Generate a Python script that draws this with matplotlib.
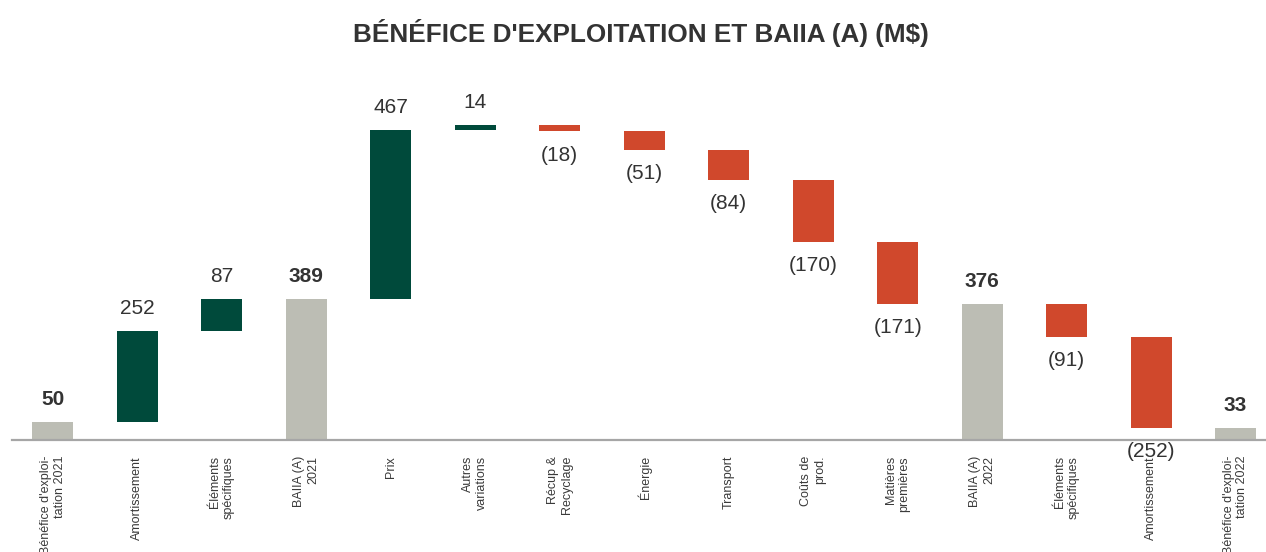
import matplotlib
matplotlib.use("Agg")
import matplotlib.pyplot as plt
from matplotlib import font_manager
import numpy as np

categories = ["Bénéfice d'exploi-\ntation 2021", "Amortissement", "Éléments\nspécifiques",
              "BAIIA (A)\n2021", "Prix", "Autres\nvariations", "Récup &\nRecyclage", "Énergie",
              "Transport", "Coûts de\nprod.", "Matières\npremières", "BAIIA (A)\n2022",
              "Éléments\nspécifiques", "Amortissement", "Bénéfice d'exploi-\ntation 2022"]
values = [50, 252, 87, 389, 467, 14, -18, -51, -84, -170, -171, 376, -91, -252, 33]
is_total = [True, False, False, True, False, False, False, False, False, False, False, True, False, False, True]
value_labels = ["50", "252", "87", "389", "467", "14", "(18)", "(51)", "(84)", "(170)", "(171)",
                "376", "(91)", "(252)", "33"]

names = {f.name for f in font_manager.fontManager.ttflist}
narrow = "Liberation Sans Narrow" if "Liberation Sans Narrow" in names else "Liberation Sans"

GREEN = "#004a3b"
RED = "#d0482c"
GRAY = "#bcbdb4"
TEXT = "#333333"

fig = plt.figure(figsize=(12.66, 5.52), dpi=100)
ax = fig.add_axes([12/1266, (552-440)/552, 1 - 12/1266, (440-80)/552])

n = len(values)
x = np.arange(n)
bottoms, heights, colors = [], [], []
running = 0
for v, t in zip(values, is_total):
    if t:
        bottoms.append(0); heights.append(v); colors.append(GRAY)
        running = v
    else:
        if v >= 0:
            bottoms.append(running); heights.append(v); colors.append(GREEN)
        else:
            bottoms.append(running + v); heights.append(-v); colors.append(RED)
        running += v

ax.bar(x, heights, bottom=bottoms, width=0.485, color=colors, zorder=2)

for i in range(n):
    top = bottoms[i] + heights[i]
    bot = bottoms[i]
    weight = "bold" if is_total[i] else "normal"
    if values[i] >= 0 or is_total[i]:
        ax.annotate(value_labels[i], (x[i], top), xytext=(0, 16), textcoords="offset points",
                    ha="center", va="center", fontsize=15, fontweight=weight, color=TEXT,
                    family="Liberation Sans")
    else:
        ax.annotate(value_labels[i], (x[i], bot), xytext=(0, -17), textcoords="offset points",
                    ha="center", va="center", fontsize=15, fontweight=weight, color=TEXT,
                    family="Liberation Sans")

ax.set_xlim(-0.485, n - 1 + 0.36)
ax.set_ylim(0, 994)
ax.set_xticks(x)
ax.set_xticklabels(categories, rotation=90, ha="center", va="top", multialignment="right",
                   fontsize=9, family=narrow, color="#3a3a3a")
ax.tick_params(axis="x", length=0, pad=11.5)
ax.set_yticks([])
for s in ["top", "right", "left"]:
    ax.spines[s].set_visible(False)
ax.spines["bottom"].set_color("#a6a6a6")
ax.spines["bottom"].set_linewidth(1.6)

fig.text(641/1266, 1 - 33/552, "BÉNÉFICE D'EXPLOITATION ET BAIIA (A) (M$)", ha="center", va="center",
         fontsize=18.8, fontweight="bold", color=TEXT, family=narrow)

fig.savefig("out.png", dpi=100)
